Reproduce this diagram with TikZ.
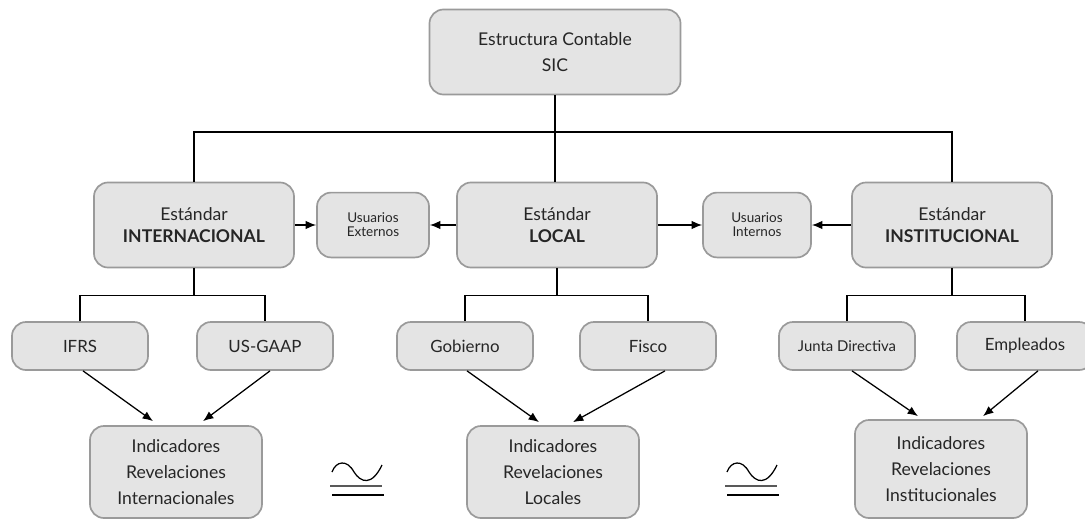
\documentclass[tikz,border=0pt]{standalone}
\usepackage{fontspec}
\setmainfont{Lato}
\usetikzlibrary{positioning,calc,arrows.meta}

\definecolor{boxfill}{HTML}{E4E4E4}
\definecolor{boxline}{HTML}{9A9A9A}
\definecolor{txtgray}{HTML}{262626}

\begin{document}
\begin{tikzpicture}[x=0.025cm, y=-0.025cm,
  nodes = {draw=boxline, fill=boxfill, line width=1.2pt,
    rounded corners=10pt, align=center, text=txtgray, inner sep=2pt},
  main/.style = {minimum width=5cm, minimum height=2.125cm,
    font=\fontsize{12.5}{15.5}\selectfont},
  users/.style = {minimum width=2.8cm, minimum height=1.62cm,
    font=\fontsize{9.6}{10}\selectfont},
  leaf/.style = {minimum width=3.4cm, minimum height=1.2cm,
    font=\fontsize{12}{14}\selectfont},
  indic/.style = {minimum width=4.3cm, minimum height=2.3cm,
    font=\fontsize{12.5}{18.5}\selectfont},
  link/.style = {line width=0.9pt},
  arr/.style = {line width=0.9pt,-{Latex[length=2.6mm,width=2.1mm]}}
  ]
  \useasboundingbox (0,0) rectangle (1085,520);

  % top
  \node (sic) [main, minimum width=6.275cm, font=\fontsize{12.5}{19}\selectfont]
    at (555,52) {Estructura Contable\\SIC};

  % standards
  \node (intl) [main] at (194,225) {Estándar\\\textbf{INTERNACIONAL}};
  \node (ext) [users] at (373,225) {Usuarios\\Externos};
  \node (loc) [main] at (557,225) {Estándar\\\textbf{LOCAL}};
  \node (int) [users, minimum width=2.7cm] at (757,225) {Usuarios\\Internos};
  \node (inst) [main] at (952,225) {Estándar\\\textbf{INSTITUCIONAL}};

  % users of each standard
  \node (ifrs) [leaf] at (80,346) {IFRS};
  \node (gaap) [leaf] at (265,346) {US-GAAP};
  \node (gob) [leaf] at (465,346) {Gobierno};
  \node (fis) [leaf] at (648,346) {Fisco};
  \node (junta) [leaf, font=\fontsize{10.6}{12}\selectfont] at (847,346) {Junta Directiva};
  \node (empl) [leaf] at (1025,346) {Empleados};

  % indicators
  \node (indint) [indic] at (176,472) {Indicadores\\Revelaciones\\Internacionales};
  \node (indloc) [indic] at (553,472) {Indicadores\\Revelaciones\\Locales};
  \node (indins) [indic, minimum height=2.45cm] at (941,469)
    {Indicadores\\Revelaciones\\Institucionales};

  % congruence signs
  \foreach \cx in {332,727} {
    \begin{scope}[shift={(\cx,462)}]
      \draw[line width=0.9pt] (0,10) .. controls (4,-1) and (15,-3) .. (22,10)
        .. controls (29,21) and (40,24) .. (50,3);
      \draw[line width=1.3pt, black!65] (-2,24) -- (50,24);
      \draw[line width=0.9pt] (0,33) -- (52,33);
    \end{scope}
  }

  % tree
  \coordinate (hub) at (555,132);
  \draw[link] (sic) -- (hub);
  \draw[link] (intl) |- (hub) -| (inst);
  \draw[link] (hub) -- (hub |- loc.north);

  \path (intl.south) ++(0,27) coordinate (fint);
  \path (loc.south) ++(0,27) coordinate (floc);
  \path (inst.south) ++(0,27) coordinate (fins);
  \draw[link] (intl) -- (fint);
  \draw[link] (ifrs) |- (fint) -| (gaap);
  \draw[link] (loc) -- (floc);
  \draw[link] (gob) |- (floc) -| (fis);
  \draw[link] (inst) -- (fins);
  \draw[link] (junta) |- (fins) -| (empl);

  \draw[arr] (intl) -- (ext);
  \draw[arr] (loc) -- (ext);
  \draw[arr] (loc) -- (int);
  \draw[arr] (inst) -- (int);

  \draw[arr] ($(ifrs.south)+(3,0)$) -- ($(indint.north)+(-23,-4)$);
  \draw[arr] ($(gaap.south)+(5,0)$) -- ($(indint.north)+(27,-4)$);
  \draw[arr] ($(gob.south)+(2,0)$) -- ($(indloc.north)+(-14,-3)$);
  \draw[arr] ($(fis.south)+(17,0)$) -- ($(indloc.north)+(20,-3)$);
  \draw[arr] ($(junta.south)+(5,0)$) -- ($(indins.north)+(-23,-3)$);
  \draw[arr] ($(empl.south)+(13,0)$) -- ($(indins.north)+(42,-3)$);
\end{tikzpicture}
\end{document}
